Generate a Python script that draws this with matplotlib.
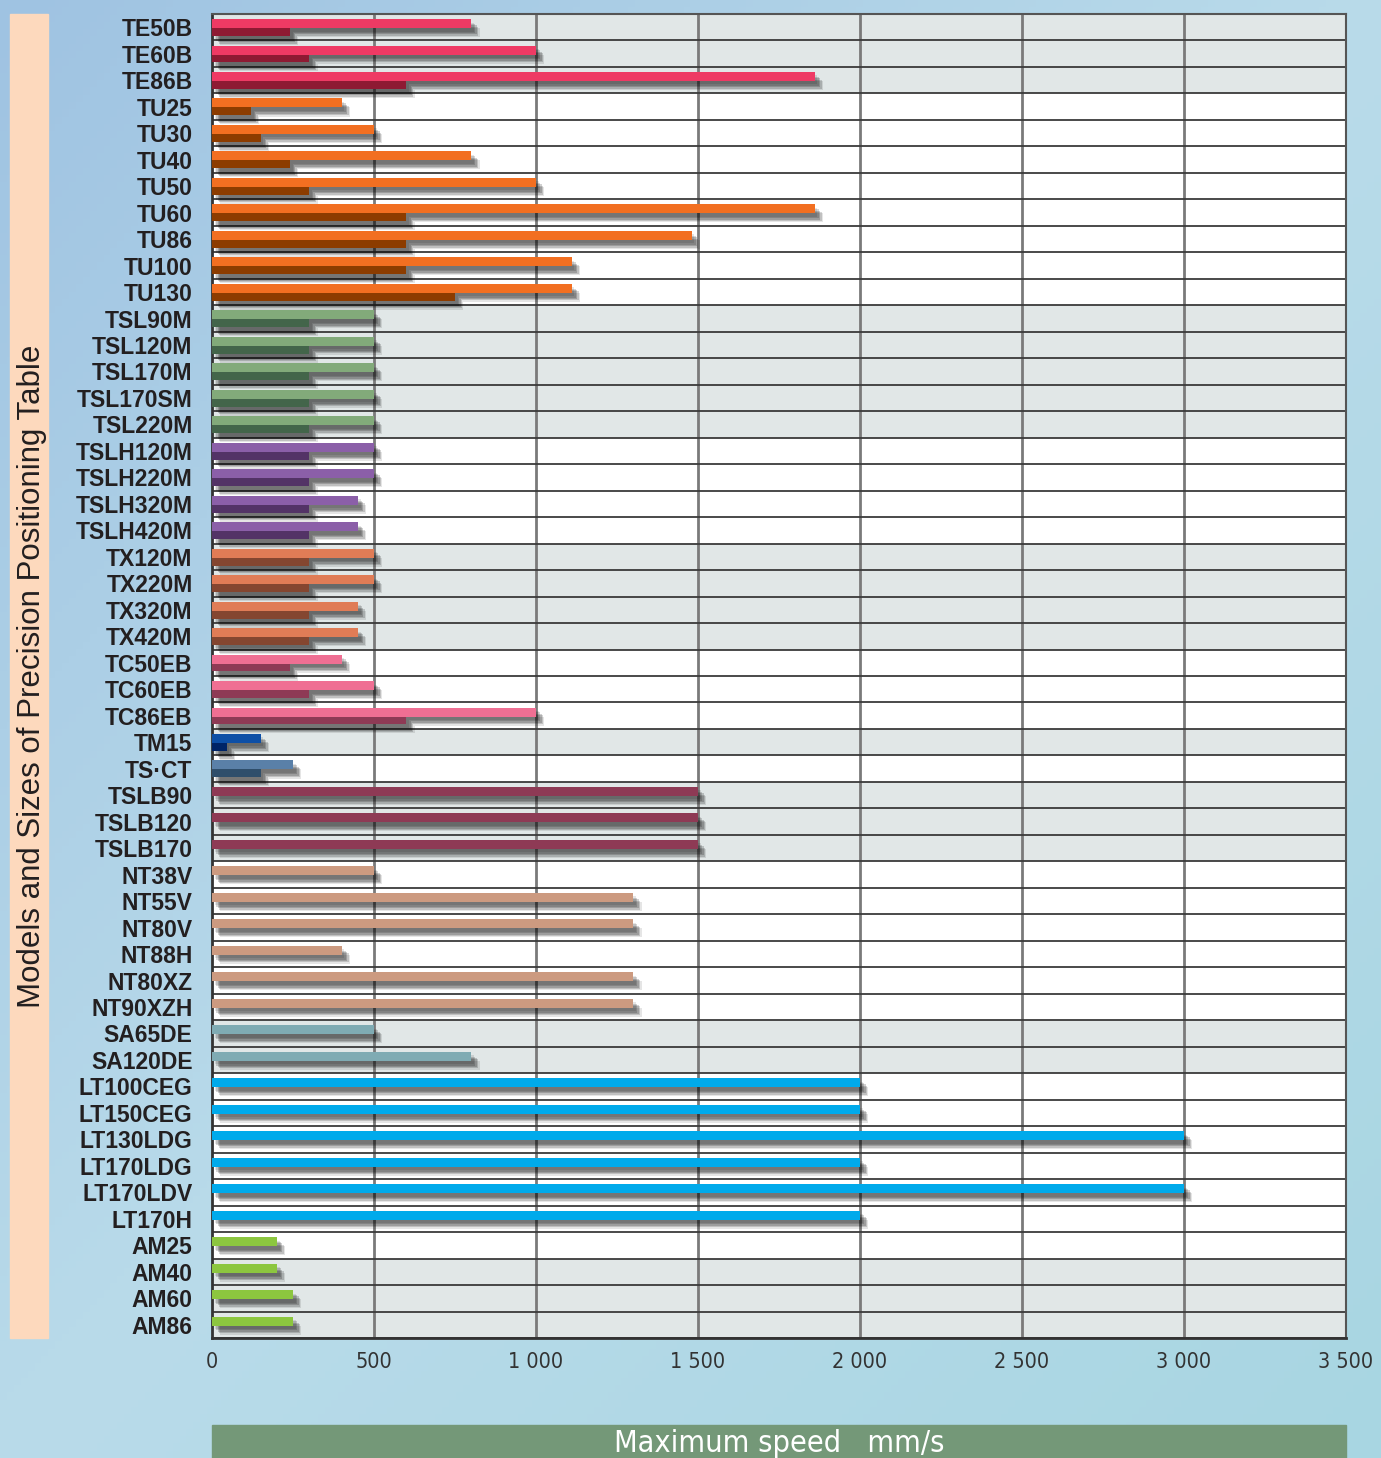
import numpy as np
import matplotlib.pyplot as plt
import matplotlib.patheffects as pe
from matplotlib.patches import Rectangle
from matplotlib.colors import LinearSegmentedColormap

models = ["TE50B", "TE60B", "TE86B",
          "TU25", "TU30", "TU40", "TU50", "TU60", "TU86", "TU100", "TU130",
          "TSL90M", "TSL120M", "TSL170M", "TSL170SM", "TSL220M",
          "TSLH120M", "TSLH220M", "TSLH320M", "TSLH420M",
          "TX120M", "TX220M", "TX320M", "TX420M",
          "TC50EB", "TC60EB", "TC86EB",
          "TM15", "TS\u00b7CT",
          "TSLB90", "TSLB120", "TSLB170",
          "NT38V", "NT55V", "NT80V", "NT88H", "NT80XZ", "NT90XZH",
          "SA65DE", "SA120DE",
          "LT100CEG", "LT150CEG", "LT130LDG", "LT170LDG", "LT170LDV", "LT170H",
          "AM25", "AM40", "AM60", "AM86"]

# upper (light) bar and lower (dark) bar, mm/s; nan = no second bar
speed_upper = [800, 1000, 1860,
               400, 500, 800, 1000, 1860, 1480, 1110, 1110,
               500, 500, 500, 500, 500,
               500, 500, 450, 450,
               500, 500, 450, 450,
               400, 500, 1000,
               150, 250,
               1500, 1500, 1500,
               500, 1300, 1300, 400, 1300, 1300,
               500, 800,
               2000, 2000, 3000, 2000, 3000, 2000,
               200, 200, 250, 250]
speed_lower = [240, 300, 600,
               120, 150, 240, 300, 600, 600, 600, 750,
               300, 300, 300, 300, 300,
               300, 300, 300, 300,
               300, 300, 300, 300,
               240, 300, 600,
               45, 150,
               np.nan, np.nan, np.nan,
               np.nan, np.nan, np.nan, np.nan, np.nan, np.nan,
               np.nan, np.nan,
               np.nan, np.nan, np.nan, np.nan, np.nan, np.nan,
               np.nan, np.nan, np.nan, np.nan]

group_sizes = [3, 8, 5, 4, 4, 3, 1, 1, 3, 6, 2, 6, 4]
upper_colors = ["#ee3a64", "#f26f21", "#82aa7a", "#8b5fa8", "#e07c56", "#ef6f93",
                "#0d4fa6", "#5a80a8", "#8e3a55", "#cc9a80", "#7fabb3", "#00aaeb", "#8cc63f"]
lower_colors = ["#8e1a33", "#8c3c00", "#43654a", "#533366", "#844630", "#8e3a55",
                "#002466", "#2f4e6b", "#8e3a55", "#cc9a80", "#7fabb3", "#00aaeb", "#8cc63f"]
# rows with grey background
shaded = [1]*3 + [0]*8 + [1]*5 + [0]*4 + [1]*4 + [0]*3 + [1] + [0] + [1]*3 + [0]*6 + [1]*2 + [0]*7 + [1]*3

xticks = [0, 500, 1000, 1500, 2000, 2500, 3000, 3500]
xtick_labels = ["0", "500", "1 000", "1 500", "2 000", "2 500", "3 000", "3 500"]

col_up = np.repeat(upper_colors, group_sizes)
col_lo = np.repeat(lower_colors, group_sizes)
y = np.arange(len(models))

narrow = dict(family="DejaVu Sans", stretch="condensed")

fig = plt.figure(figsize=(13.81, 14.58), dpi=100)

# background gradient
bg = fig.add_axes([0, 0, 1, 1], zorder=-10)
gx, gy = np.meshgrid(np.linspace(0, 1, 200), np.linspace(0, 1, 200))
grad = 0.5 * gx + 0.5 * gy
cmap = LinearSegmentedColormap.from_list("bgc", ["#9fc3e2", "#b9dbea", "#a8d6e2"])
bg.imshow(grad, cmap=cmap, aspect="auto", extent=[0, 1, 0, 1], origin="upper")
bg.axis("off")

fig.patches.append(Rectangle((10/1381, 1-1338/1458), 38/1381, 1324/1458,
                             transform=fig.transFigure, color="#fdd9bd", zorder=0))
fig.text(32/1381, 1-676/1458, "Models and Sizes of Precision Positioning Table",
         rotation=90, ha="center", va="center", fontsize=22.5, color="#231f20",
         family="Liberation Sans")
fig.patches.append(Rectangle((212/1381, 0), 1134/1381, 33/1458,
                             transform=fig.transFigure, color="#749878", zorder=0))
fig.text(779/1381, 14/1458, "Maximum speed   mm/s", ha="center", va="center",
         fontsize=22, color="white", **narrow)

ax = fig.add_axes([212/1381, 1-1338/1458, 1134/1381, 1324/1458])
for i, s in enumerate(shaded):
    ax.axhspan(i - 0.5, i + 0.5, color="#e1e7e7" if s else "white", zorder=0, lw=0)
for xv in xticks[1:-1]:
    ax.axvline(xv, color="#7a7a7a", lw=2, zorder=1)
for i in range(len(models) + 1):
    ax.axhline(i - 0.5, color="#3a3a3a", lw=1.3, zorder=1)

# soft drop shadow built from stacked offsets, drawn under all bars
shadow = [pe.SimplePatchShadow(offset=(dx, dy), shadow_rgbFace="k", alpha=a)
          for dx, dy, a in [(2, -2.5, 0.1), (3, -3.5, 0.16), (4, -4.5, 0.18),
                            (5, -5.5, 0.16), (6, -6.5, 0.1)]]
sh_lo = ax.barh(y + 0.18, speed_lower, height=0.30, color="k", zorder=2)
sh_up = ax.barh(y - 0.14, speed_upper, height=0.34, color="k", zorder=2)
for b in list(sh_lo) + list(sh_up):
    b.set_path_effects(shadow)

ax.barh(y + 0.18, speed_lower, height=0.30, color=col_lo, zorder=3)
ax.barh(y - 0.14, speed_upper, height=0.34, color=col_up, zorder=4)

ax.set_xlim(0, 3500)
ax.set_ylim(len(models) - 0.5, -0.5)
ax.set_yticks(y)
ax.set_yticklabels(models, fontsize=16.5, fontweight="bold", color="#231f20",
                   family="Liberation Sans")
ax.set_xticks(xticks)
ax.set_xticklabels(xtick_labels, fontsize=15.5, color="#333333", **narrow)
ax.tick_params(length=0)
ax.tick_params(axis="y", pad=14)
ax.tick_params(axis="x", pad=10)
for side in ["left", "bottom"]:
    ax.spines[side].set_color("#333333")
    ax.spines[side].set_linewidth(2)
for side in ["top", "right"]:
    ax.spines[side].set_color("#555555")
    ax.spines[side].set_linewidth(1.5)

fig.savefig("out.png", dpi=100)
